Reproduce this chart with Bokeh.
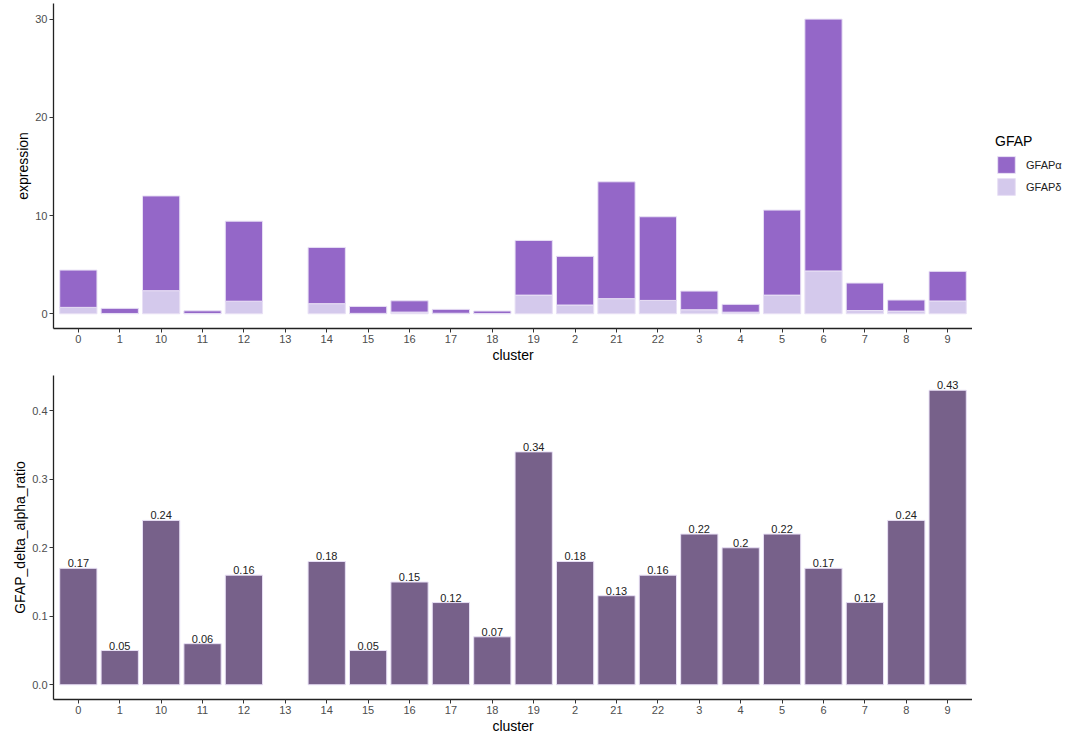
from bokeh.plotting import figure
from bokeh.models import (ColumnDataSource, FactorRange, Range1d, Legend, LegendItem,
                          LabelSet, FixedTicker)
from bokeh.core.properties import value
from bokeh.layouts import column, row
from bokeh.embed import file_html
from bokeh.resources import INLINE

clusters = ["0", "1", "10", "11", "12", "13", "14", "15", "16", "17", "18", "19",
            "2", "21", "22", "3", "4", "5", "6", "7", "8", "9"]
gfap_alpha = [3.80, 0.52, 9.65, 0.28, 8.15, None, 5.73, 0.71, 1.15, 0.40, 0.26, 5.57,
              4.96, 11.90, 8.52, 1.90, 0.80, 8.66, 25.65, 2.80, 1.13, 3.02]
gfap_delta = [0.65, 0.03, 2.35, 0.02, 1.28, None, 1.03, 0.04, 0.17, 0.05, 0.02, 1.90,
              0.89, 1.54, 1.36, 0.41, 0.16, 1.90, 4.36, 0.33, 0.27, 1.30]
ratio = [0.17, 0.05, 0.24, 0.06, 0.16, None, 0.18, 0.05, 0.15, 0.12, 0.07, 0.34,
         0.18, 0.13, 0.16, 0.22, 0.20, 0.22, 0.17, 0.12, 0.24, 0.43]
ratio_labels = ["0.17", "0.05", "0.24", "0.06", "0.16", "", "0.18", "0.05", "0.15", "0.12",
                "0.07", "0.34", "0.18", "0.13", "0.16", "0.22", "0.2", "0.22", "0.17",
                "0.12", "0.24", "0.43"]
legend_labels = ["GFAPα", "GFAPδ"]

ALPHA_C = "#9467C8"
DELTA_C = "#D4C9EC"
RATIO_C = "#77618A"
EDGE_C = "#E8E0F5"
FONT = "Liberation Sans"

LEFT = 53
MAIN_W = 972   # frame width = 919
LEG_W = 100


def style(p, ylabel):
    p.xgrid.visible = False
    p.ygrid.visible = False
    p.outline_line_color = None
    for ax in (p.xaxis[0], p.yaxis[0]):
        ax.axis_line_color = "#222222"
        ax.axis_line_width = 1.3
        ax.major_tick_line_color = "#333333"
        ax.major_tick_line_width = 1
        ax.major_tick_out = 4
        ax.major_tick_in = 0
        ax.minor_tick_line_color = None
        ax.major_label_text_font = FONT
        ax.major_label_text_font_size = "11px"
        ax.major_label_text_color = "#4D4D4D"
        ax.axis_label_text_font = FONT
        ax.axis_label_text_font_size = "14px"
        ax.axis_label_text_font_style = "normal"
        ax.axis_label_text_color = "#000000"
        ax.major_label_standoff = 2
        ax.axis_label_standoff = 1
    p.xaxis.axis_label = "cluster"
    p.yaxis.axis_label = ylabel


# ---------- top: stacked expression ----------
idx1 = [i for i in range(len(clusters)) if gfap_alpha[i] is not None]
src = ColumnDataSource(dict(cluster=[clusters[i] for i in idx1],
                            alpha=[gfap_alpha[i] for i in idx1],
                            delta=[gfap_delta[i] for i in idx1]))

xr1 = FactorRange(factors=clusters, range_padding=0.1, range_padding_units="absolute")
p1 = figure(x_range=xr1, y_range=Range1d(-1.5, 31.6), width=MAIN_W, height=370,
            toolbar_location=None, output_backend="svg",
            min_border_left=LEFT, min_border_top=3, min_border_bottom=42, min_border_right=0)
rs = p1.vbar_stack(["delta", "alpha"], x="cluster", width=0.9, source=src,
                   fill_color=[DELTA_C, ALPHA_C], line_color=EDGE_C, line_width=1)
style(p1, "expression")
p1.yaxis.ticker = FixedTicker(ticks=[0, 10, 20, 30])

# ---------- legend panel (separate figure to the right) ----------
pl = figure(width=LEG_W, height=370, x_range=Range1d(0, 1), y_range=Range1d(0, 1),
            x_axis_type=None, y_axis_type=None, toolbar_location=None, output_backend="svg",
            min_border=0, min_border_left=0, min_border_right=0, min_border_top=0,
            min_border_bottom=0)
pl.xgrid.visible = False
pl.ygrid.visible = False
pl.outline_line_color = None
# one key swatch per series, placed outside the visible range (legend keys only)
leg_src = ColumnDataSource(dict(x=[5.0], top=[5.0]))
ra = pl.vbar(x="x", top="top", width=0.1, source=leg_src, fill_color=ALPHA_C, line_color=EDGE_C)
rd = pl.vbar(x="x", top="top", width=0.1, source=leg_src, fill_color=DELTA_C, line_color=EDGE_C)
legend = Legend(items=[LegendItem(label=legend_labels[0], renderers=[ra]),
                       LegendItem(label=legend_labels[1], renderers=[rd])],
                title="GFAP", location=(23, 131))
legend.title_text_font = FONT
legend.title_text_font_size = "14px"
legend.title_text_font_style = "normal"
legend.title_text_color = "#000000"
legend.title_standoff = 5
legend.label_text_font = FONT
legend.label_text_font_size = "11px"
legend.label_text_color = "#222222"
legend.glyph_width = 22
legend.glyph_height = 21
legend.spacing = 1
legend.label_standoff = 9
legend.border_line_color = None
legend.background_fill_alpha = 0
legend.padding = 0
legend.margin = 0
pl.add_layout(legend)

# ---------- bottom: ratio ----------
idx2 = [i for i in range(len(clusters)) if ratio[i] is not None]
rsrc = ColumnDataSource(dict(cluster=[clusters[i] for i in idx2],
                             ratio=[ratio[i] for i in idx2],
                             lab=[ratio_labels[i] for i in idx2]))
xr2 = FactorRange(factors=clusters, range_padding=0.1, range_padding_units="absolute")
p2 = figure(x_range=xr2, y_range=Range1d(-0.0215, 0.4515), width=MAIN_W, height=366,
            toolbar_location=None, output_backend="svg",
            min_border_left=LEFT, min_border_top=5, min_border_bottom=35, min_border_right=0)
p2.vbar(x="cluster", top="ratio", width=0.9, source=rsrc,
        fill_color=RATIO_C, line_color=EDGE_C, line_width=1)
labels = LabelSet(x="cluster", y="ratio", text="lab", source=rsrc,
                  text_align="center", text_baseline="bottom", y_offset=1,
                  text_font=value(FONT), text_font_size=value("11px"),
                  text_color=value("#222222"))
p2.add_layout(labels)
style(p2, "GFAP_delta_alpha_ratio")
p2.yaxis.ticker = FixedTicker(ticks=[0.0, 0.1, 0.2, 0.3, 0.4])
p2.yaxis.major_label_overrides = {0.0: "0.0", 0.1: "0.1", 0.2: "0.2", 0.3: "0.3", 0.4: "0.4"}

layout = column(row(p1, pl, spacing=0), p2, spacing=0)
open("out.html", "w").write(file_html(layout, INLINE))
